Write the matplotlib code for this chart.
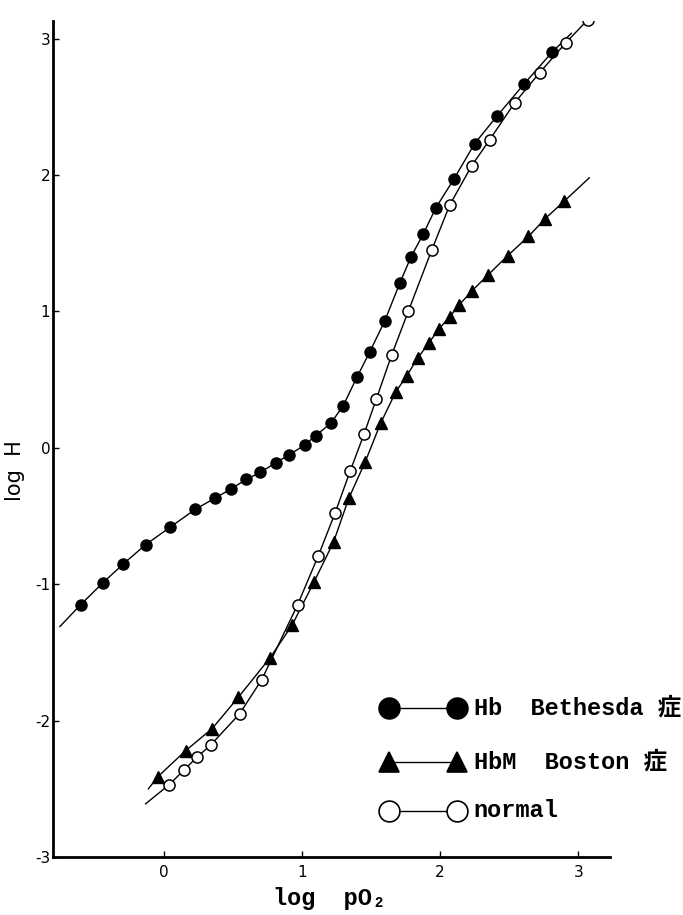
"""Hill plot: log H vs log pO2 for Hb Bethesda, HbM Boston and normal blood."""
import numpy as np
import matplotlib
matplotlib.use("Agg")
from matplotlib import pyplot as plt
from matplotlib.ticker import FuncFormatter

# Hb Bethesda (filled circles)
bethesda_x = [-0.60, -0.44, -0.29, -0.13, 0.05, 0.23, 0.37, 0.49, 0.60, 0.70,
              0.81, 0.91, 1.02, 1.10, 1.21, 1.30, 1.40, 1.49, 1.60, 1.71,
              1.79, 1.88, 1.97, 2.10, 2.25, 2.41, 2.61, 2.81]
bethesda_y = [-1.15, -0.99, -0.85, -0.71, -0.58, -0.45, -0.37, -0.30, -0.23, -0.18,
              -0.11, -0.05, 0.02, 0.09, 0.18, 0.31, 0.52, 0.70, 0.93, 1.21,
              1.40, 1.57, 1.76, 1.97, 2.23, 2.43, 2.67, 2.90]
bethesda_ends = ([-0.75], [-1.31], [2.95], [3.04])

# HbM Boston (triangles)
boston_x = [-0.04, 0.16, 0.35, 0.54, 0.77, 0.93, 1.09, 1.23, 1.34, 1.46,
            1.57, 1.68, 1.76, 1.84, 1.92, 1.99, 2.07, 2.14, 2.23, 2.35,
            2.49, 2.64, 2.76, 2.90]
boston_y = [-2.41, -2.22, -2.06, -1.83, -1.54, -1.30, -0.98, -0.69, -0.37, -0.10,
            0.18, 0.41, 0.53, 0.66, 0.77, 0.87, 0.96, 1.05, 1.15, 1.27,
            1.41, 1.55, 1.68, 1.81]
boston_ends = ([-0.11], [-2.50], [3.08], [1.98])

# normal (open circles)
normal_x = [0.04, 0.15, 0.24, 0.34, 0.55, 0.71, 0.97, 1.12, 1.24, 1.35,
            1.45, 1.54, 1.65, 1.77, 1.94, 2.07, 2.23, 2.36, 2.54, 2.72,
            2.91, 3.07]
normal_y = [-2.47, -2.36, -2.27, -2.18, -1.95, -1.70, -1.15, -0.79, -0.48, -0.17,
            0.10, 0.36, 0.68, 1.00, 1.45, 1.78, 2.07, 2.26, 2.53, 2.75,
            2.97, 3.14]
normal_ends = ([-0.13], [-2.61], [3.12], [3.20])

legend_labels = ["Hb  Bethesda 症", "HbM  Boston 症", "normal"]
x_ticks = [0, 1, 2, 3]
y_ticks = [-3, -2, -1, 0, 1, 2, 3]

mono = ["Liberation Mono", "Noto Sans CJK JP", "DejaVu Sans Mono"]

fig = plt.figure(figsize=(6.83, 9.15), dpi=100)
ax = fig.add_axes([53 / 683, 58 / 915, 557 / 683, 836 / 915])


def curve(xs, ys, ends):
    """Join the measured points with the curve extensions at both ends."""
    x = np.concatenate([ends[0], xs, ends[2]])
    y = np.concatenate([ends[1], ys, ends[3]])
    return x, y


for xs, ys, ends in [(bethesda_x, bethesda_y, bethesda_ends),
                     (boston_x, boston_y, boston_ends),
                     (normal_x, normal_y, normal_ends)]:
    cx, cy = curve(xs, ys, ends)
    ax.plot(cx, cy, color="black", lw=1.0, zorder=2)

ax.plot(bethesda_x, bethesda_y, "o", ms=8, mfc="black", mec="black", zorder=3)
ax.plot(boston_x, boston_y, "^", ms=8, mfc="black", mec="black", zorder=3)
ax.plot(normal_x, normal_y, "o", ms=8, mfc="white", mec="black", mew=1.1, zorder=3)

# legend, drawn by hand inside the axes
markers = [("o", "black"), ("^", "black"), ("o", "white")]
rows_y = [-1.91, -2.30, -2.66]
for (mk, fc), label, ry in zip(markers, legend_labels, rows_y):
    ax.plot([1.63, 2.12], [ry, ry], color="black", lw=1.0, zorder=2)
    ax.plot([1.63, 2.12], [ry, ry], mk, ms=15, mfc=fc, mec="black", mew=1.2,
            zorder=3)
    ax.text(2.245, ry, label, fontsize=17, family=mono, fontweight="bold",
            ha="left", va="center", clip_on=False)

ax.set_xlim(-0.80, 3.23)
ax.set_ylim(-3.0, 3.13)
ax.set_xticks(x_ticks)
ax.set_yticks(y_ticks)
ax.yaxis.set_major_formatter(FuncFormatter(lambda v, p: f"{int(v)}"))
ax.tick_params(direction="in", length=4, width=1, labelsize=11)
ax.tick_params(axis="y", pad=2)
ax.tick_params(axis="x", pad=6)

for side in ["top", "right"]:
    ax.spines[side].set_visible(False)
ax.spines["left"].set_linewidth(2.0)
ax.spines["bottom"].set_linewidth(2.0)

ax.set_ylabel("log  H", fontsize=15)
ax.yaxis.set_label_coords(-0.050, 0.462)
ax.set_xlabel("log  pO₂", fontsize=17, family=mono, fontweight="bold",
              va="center")
ax.xaxis.set_label_coords(0.497, -0.050)

fig.savefig("out.png", dpi=100)
